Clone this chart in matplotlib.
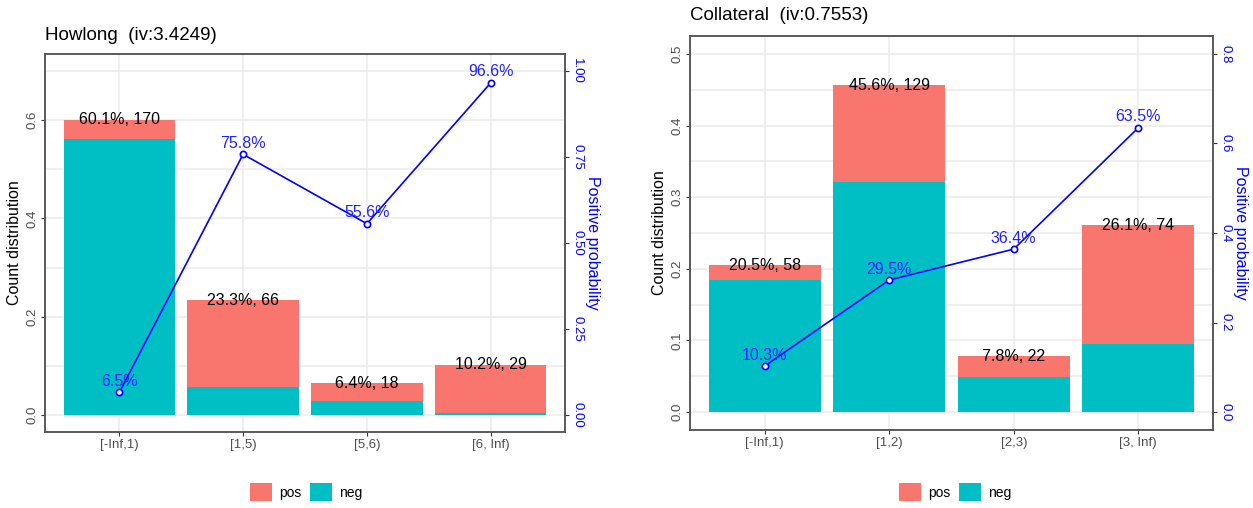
import numpy as np
import matplotlib
matplotlib.use('Agg')
import matplotlib.pyplot as plt
from matplotlib.patches import Patch

plt.rcParams['font.family'] = ['Liberation Sans Narrow', 'Liberation Sans', 'DejaVu Sans']

# binning results for the two variables
howlong_bins = ['[-Inf,1)', '[1,5)', '[5,6)', '[6, Inf)']
howlong_distr = [0.601, 0.233, 0.064, 0.102]
howlong_count = [170, 66, 18, 29]
howlong_posprob = [0.065, 0.758, 0.556, 0.966]

collateral_bins = ['[-Inf,1)', '[1,2)', '[2,3)', '[3, Inf)']
collateral_distr = [0.205, 0.456, 0.078, 0.261]
collateral_count = [58, 129, 22, 74]
collateral_posprob = [0.103, 0.295, 0.364, 0.635]

pos_col = '#F8766D'
neg_col = '#00BFC4'
grid_col = '#EBEBEB'
tick_col = '#4D4D4D'


def woe_panel(fig, rect, title, title_y, bins, distr, count, posprob, legend_x):
    ax = fig.add_axes(rect)
    x = np.arange(len(bins))
    distr = np.array(distr)
    posprob = np.array(posprob)
    neg = distr * (1 - posprob)
    pos = distr - neg

    ax.bar(x, neg, width=0.9, color=neg_col, zorder=2)
    ax.bar(x, pos, width=0.9, bottom=neg, color=pos_col, zorder=2)
    for xi, d, c in zip(x, distr, count):
        ax.text(xi, d, '%.1f%%, %d' % (d * 100, c), ha='center', va='center',
                fontsize=11.5, color='black', zorder=4)

    # scale limits like scorecard::woebin_plot
    y_left_max = np.ceil(distr.max() * 10) / 10
    y_right_max = np.ceil(posprob.max() * 10)
    if y_right_max % 2 == 1:
        y_right_max += 1
    y_right_max /= 10
    pad = y_left_max * 0.05
    ax.set_ylim(-pad, y_left_max + pad)
    ax.set_xlim(-0.6, len(bins) - 0.4)

    step = 0.2 if y_left_max > 0.5 else 0.1
    ax.set_yticks(np.arange(0, y_left_max + 1e-9, step))
    ax.set_yticks(np.arange(step / 2, y_left_max + pad, step), minor=True)
    ax.set_yticklabels(['%.1f' % v for v in np.arange(0, y_left_max + 1e-9, step)],
                       rotation=90, va='center')
    ax.set_xticks(x)
    ax.set_xticklabels(bins)
    ax.grid(True, which='major', color=grid_col, lw=1.1, zorder=0)
    ax.grid(True, which='minor', axis='y', color=grid_col, lw=1.1, zorder=0)
    ax.tick_params(which='major', length=3, color='#333333', labelcolor=tick_col,
                   labelsize=9.5, pad=2)
    ax.tick_params(which='minor', length=0)
    ax.set_ylabel('Count distribution', fontsize=11.5, labelpad=3)
    for s in ax.spines.values():
        s.set_color('#555555')
        s.set_linewidth(1.1)

    # positive probability on the secondary axis
    ax2 = ax.twinx()
    scale = y_right_max / y_left_max
    ax2.set_ylim(-pad * scale, (y_left_max + pad) * scale)
    ax2.plot(x, posprob, color='blue', lw=1.2, marker='o', markersize=4.5,
             markerfacecolor='white', markeredgecolor='blue', markeredgewidth=1.2, zorder=3)
    for xi, p in zip(x, posprob):
        ax2.annotate('%.1f%%' % (p * 100), (xi, p), xytext=(0, 2.5), textcoords='offset points',
                     ha='center', va='bottom', fontsize=11.5, color='#2222FF')
    rstep = 0.25 if y_right_max == 1 else 0.2
    rticks = np.arange(0, y_right_max + 1e-9, rstep)
    ax2.set_yticks(rticks)
    fmt = '%.2f' if rstep == 0.25 else '%.1f'
    ax2.set_yticklabels([fmt % v for v in rticks], rotation=-90, va='center')
    ax2.tick_params(length=3, color='#333333', labelcolor='blue', labelsize=9.5, pad=1.5)
    ax2.set_ylabel('Positive probability', color='blue', fontsize=11.5, rotation=-90,
                   va='bottom', labelpad=1)
    for s in ax2.spines.values():
        s.set_color('#555555')
        s.set_linewidth(1.1)

    fig.text(rect[0], title_y, title, fontsize=13.5, ha='left', va='center')

    handles = [Patch(facecolor=pos_col, label='pos'), Patch(facecolor=neg_col, label='neg')]
    fig.legend(handles=handles, loc='center', bbox_to_anchor=(legend_x, 1 - 492 / 508),
               ncol=2, frameon=False, fontsize=10, handlelength=1.6, handleheight=1.6,
               handletextpad=0.5, columnspacing=0.6)
    return ax


fig = plt.figure(figsize=(12.53, 5.08), dpi=100)
woe_panel(fig, [45 / 1253, 1 - 432 / 508, 520 / 1253, 378 / 508], 'Howlong  (iv:3.4249)',
          1 - 35 / 508, howlong_bins, howlong_distr, howlong_count, howlong_posprob, 306 / 1253)
woe_panel(fig, [690 / 1253, 1 - 430 / 508, 523 / 1253, 394 / 508], 'Collateral  (iv:0.7553)',
          1 - 15 / 508, collateral_bins, collateral_distr, collateral_count, collateral_posprob,
          955 / 1253)

fig.savefig('out.png', dpi=100)
